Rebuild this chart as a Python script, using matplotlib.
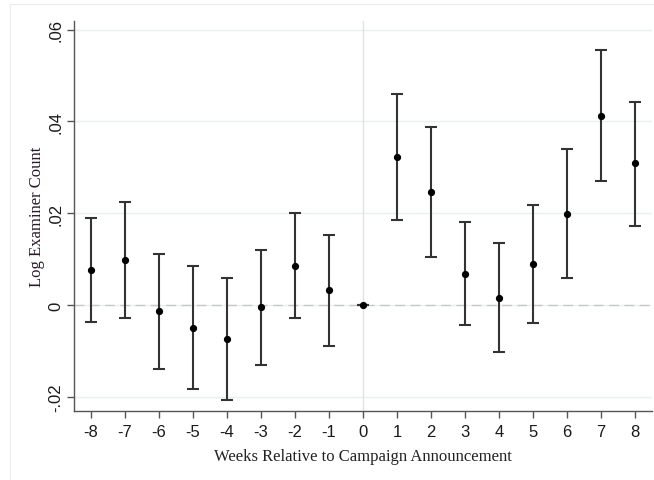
import matplotlib
matplotlib.use("Agg")
import matplotlib.pyplot as plt
from matplotlib.lines import Line2D
from matplotlib.ticker import FixedLocator

# Event-study estimates by week relative to the announcement
weeks = [-8, -7, -6, -5, -4, -3, -2, -1, 0, 1, 2, 3, 4, 5, 6, 7, 8]
coef = [0.0077, 0.0098, -0.0014, -0.0050, -0.0074, -0.0005, 0.0086, 0.0032, 0.0,
        0.0323, 0.0246, 0.0068, 0.0016, 0.0089, 0.0199, 0.0412, 0.0309]
ci_low = [-0.0037, -0.0028, -0.0140, -0.0183, -0.0207, -0.0130, -0.0028, -0.0089, 0.0,
          0.0185, 0.0104, -0.0044, -0.0103, -0.0040, 0.0058, 0.0270, 0.0173]
ci_high = [0.0190, 0.0225, 0.0111, 0.0084, 0.0058, 0.0119, 0.0200, 0.0153, 0.0,
           0.0460, 0.0388, 0.0181, 0.0135, 0.0217, 0.0340, 0.0555, 0.0443]
ytick_vals = [-0.02, 0.0, 0.02, 0.04, 0.06]
ytick_labels = ["-.02", "0", ".02", ".04", ".06"]

W, H = 654, 481
fig = plt.figure(figsize=(W / 100, H / 100), dpi=100)
fig.patch.set_facecolor("white")

# faint outer graph-region frame
fig.add_artist(Line2D([10 / W, 10 / W], [0, 1 - 5 / H], transform=fig.transFigure,
                      color="#ececec", lw=0.8))
fig.add_artist(Line2D([10 / W, 1], [1 - 5 / H, 1 - 5 / H], transform=fig.transFigure,
                      color="#ececec", lw=0.8))

ax = fig.add_axes([74 / W, 1 - 411.7 / H, (652 - 74) / W, (411.7 - 22) / H])
ax.set_xlim(-8.5, 8.5)
ax.set_ylim(-0.02305, 0.0619)

# grid, zero reference line and event line
for v in ytick_vals:
    ax.axhline(v, color="#eaf0f0", lw=1.0, zorder=0)
ax.axhline(0, color="#c8c8c8", lw=1.0, ls=(0, (7, 4)), zorder=1)
ax.axvline(0, color="#e2e2e2", lw=1.0, zorder=1)

yerr = [[c - lo for c, lo in zip(coef, ci_low)], [hi - c for c, hi in zip(coef, ci_high)]]
ax.errorbar(weeks, coef, yerr=yerr, fmt="none", ecolor="#333333", elinewidth=1.5,
            capsize=4.2, capthick=1.5, zorder=2)
ax.plot(weeks, coef, "o", color="black", ms=4.2, zorder=3)

for s in ["top", "right"]:
    ax.spines[s].set_visible(False)
for s in ["left", "bottom"]:
    ax.spines[s].set_color("#555555")
    ax.spines[s].set_linewidth(1.0)

ax.xaxis.set_major_locator(FixedLocator(weeks))
ax.set_xticklabels([str(w) for w in weeks], fontsize=12, family="Liberation Sans")
ax.yaxis.set_major_locator(FixedLocator(ytick_vals))
ax.set_yticklabels(ytick_labels, fontsize=12, family="Liberation Sans",
                   rotation=90, va="center")
ax.tick_params(axis="both", direction="out", length=4.8, width=1.0, color="#555555",
               labelcolor="#1a1a1a")
ax.tick_params(axis="x", pad=5)
ax.tick_params(axis="y", pad=3)

ax.set_xlabel("Weeks Relative to Campaign Announcement", family="Liberation Serif",
              fontsize=12, color="#222222", labelpad=6)
ax.set_ylabel("Log Examiner Count", family="Liberation Serif", fontsize=12,
              color="#2a1a2a", labelpad=2)

fig.savefig("out.png", dpi=100, facecolor="white")
